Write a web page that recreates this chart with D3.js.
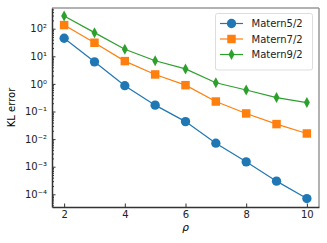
<!DOCTYPE html>
<html>
<head>
<meta charset="utf-8">
<script src="https://cdn.jsdelivr.net/npm/d3@7"></script>
<style>
  body { margin: 0; background: #fff; }
  text { font-family: "DejaVu Sans", sans-serif; }
</style>
</head>
<body>
<div id="chart"></div>
<script>
// data
var rho = [2, 3, 4, 5, 6, 7, 8, 9, 10]
var matern52 = [45, 6.3, 0.86, 0.17, 0.043, 0.0071, 0.0015, 0.0003, 0.00007]
var matern72 = [135, 31, 6.7, 2.2, 0.9, 0.23, 0.085, 0.035, 0.016]
var matern92 = [290, 72, 18, 6.9, 3.5, 1.1, 0.6, 0.32, 0.21]
var seriesNames = ["Matern5/2", "Matern7/2", "Matern9/2"]
var xTicks = [2, 4, 6, 8, 10]
var yTicks = [1e2, 1e1, 1e0, 1e-1, 1e-2, 1e-3, 1e-4]

var width = 327, height = 243
var margin = {left: 52, right: 8, top: 8, bottom: 36}

var svg = d3.select("#chart").append("svg")
  .attr("width", width).attr("height", height)

var x = d3.scaleLinear().domain([1.6, 10.4]).range([margin.left, width - margin.right])
var y = d3.scaleLog().domain([Math.pow(10, -4.46), Math.pow(10, 2.75)])
  .range([height - margin.bottom, margin.top])

var colors = ["#1f77b4", "#ff7f0e", "#2ca02c"]
var symbols = [d3.symbolCircle, d3.symbolSquare, "diamond"]
var series = [matern52, matern72, matern92]

var g = svg.append("g")

// top / right frame in gray
g.append("line").attr("x1", x.range()[0]).attr("x2", x.range()[1])
  .attr("y1", margin.top).attr("y2", margin.top).attr("stroke", "#999").attr("stroke-width", 1.5)
g.append("line").attr("x1", x.range()[1]).attr("x2", x.range()[1])
  .attr("y1", margin.top).attr("y2", height - margin.bottom).attr("stroke", "#999").attr("stroke-width", 1.5)

// bottom axis, ticks pointing in
var xAxis = g.append("g").attr("transform", "translate(0," + (height - margin.bottom) + ")")
  .call(d3.axisBottom(x).tickValues(xTicks).tickSizeInner(-3.5).tickSizeOuter(0).tickPadding(4))
xAxis.select(".domain").attr("stroke", "#333").attr("stroke-width", 1.5)
xAxis.selectAll(".tick line").attr("stroke", "#333")
xAxis.selectAll("text").attr("font-size", 10).attr("fill", "#222")

// left axis: major + minor ticks inward
var minor = []
for (var e = -5; e <= 2; e++) {
  for (var k = 2; k <= 9; k++) {
    var v = k * Math.pow(10, e)
    if (v >= y.domain()[0] && v <= y.domain()[1]) minor.push(v)
  }
}
var yMinor = g.append("g").attr("transform", "translate(" + margin.left + ",0)")
  .call(d3.axisLeft(y).tickValues(minor).tickSizeInner(-2).tickSizeOuter(0).tickFormat(""))
yMinor.select(".domain").remove()
yMinor.selectAll(".tick line").attr("stroke", "#333")

var supers = {"-": "\u207b", "0": "\u2070", "1": "\u00b9", "2": "\u00b2", "3": "\u00b3", "4": "\u2074"}
var yAxis = g.append("g").attr("transform", "translate(" + margin.left + ",0)")
  .call(d3.axisLeft(y).tickValues(yTicks).tickSizeInner(-3.5).tickSizeOuter(0).tickPadding(5)
    .tickFormat(function(d) {
      var p = String(Math.round(Math.log10(d)))
      return "10" + p.split("").map(function(c) { return supers[c] }).join("")
    }))
yAxis.select(".domain").attr("stroke", "#333").attr("stroke-width", 1.5)
yAxis.selectAll(".tick line").attr("stroke", "#333")
yAxis.selectAll("text").attr("font-size", 10).attr("fill", "#222")

// axis labels
svg.append("text").attr("x", (x.range()[0] + x.range()[1]) / 2).attr("y", 231)
  .attr("text-anchor", "middle").attr("font-size", 10.5).attr("font-style", "italic").text("\u03c1")
svg.append("text").attr("transform", "translate(15," + ((y.range()[0] + y.range()[1]) / 2) + ") rotate(-90)")
  .attr("text-anchor", "middle").attr("font-size", 10).text("KL error")

function markerPath(i) {
  if (symbols[i] == "diamond") return "M0,-5.5L3,0L0,5.5L-3,0Z"
  if (i == 0) return d3.symbol().type(symbols[i]).size(68)()
  return d3.symbol().type(symbols[i]).size(72)()
}

var line = d3.line().x(function(d) { return x(d[0]) }).y(function(d) { return y(d[1]) })

series.forEach(function(vals, i) {
  var pts = rho.map(function(r, j) { return [r, vals[j]] })
  g.append("path").datum(pts).attr("d", line)
    .attr("fill", "none").attr("stroke", colors[i]).attr("stroke-width", 1.2)
  g.selectAll(".m" + i).data(pts).enter().append("path")
    .attr("d", markerPath(i))
    .attr("transform", function(d) { return "translate(" + x(d[0]) + "," + y(d[1]) + ")" })
    .attr("fill", colors[i])
})

// legend
var leg = svg.append("g")
leg.append("rect").attr("x", 215.5).attr("y", 13.5).attr("width", 97).attr("height", 56.5)
  .attr("rx", 2).attr("fill", "#fff").attr("fill-opacity", 0.8).attr("stroke", "#ddd")
seriesNames.forEach(function(name, i) {
  var ly = 23.5 + i * 15.5
  leg.append("line").attr("x1", 220).attr("x2", 243).attr("y1", ly).attr("y2", ly)
    .attr("stroke", colors[i]).attr("stroke-width", 1.2)
  leg.append("path").attr("d", markerPath(i)).attr("transform", "translate(231.5," + ly + ")")
    .attr("fill", colors[i])
  leg.append("text").attr("x", 251.5).attr("y", ly + 3.6).attr("font-size", 10).attr("fill", "#222").text(name)
})
</script>
</body>
</html>
